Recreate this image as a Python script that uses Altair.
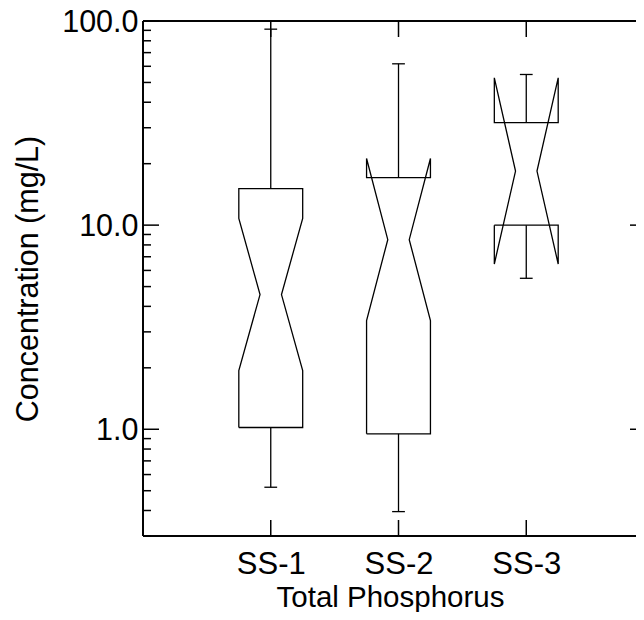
import json
import altair as alt
import pandas as pd

# ---- data ----
stations = ["SS-1", "SS-2", "SS-3"]
q1 = [1.02, 0.95, 10.0]
q3 = [15.1, 17.1, 31.8]
median = [4.57, 8.49, 18.4]
notch_lo = [1.94, 3.41, 6.45]
notch_hi = [10.8, 21.2, 52.7]
whisker_lo = [0.52, 0.395, 5.49]
whisker_hi = [91.2, 61.7, 54.7]

y_major = [1, 10, 100]
y_minor = [0.3, 0.4, 0.5, 0.6, 0.7, 0.8, 0.9,
           2, 3, 4, 5, 6, 7, 8, 9,
           20, 30, 40, 50, 60, 70, 80, 90]

# ---- style ----
W, H = 493, 515
X_MAX = 3.859          # visible part of the 0..4 category axis
BW, NW, CW = 0.25, 0.084, 0.05   # box / notch / cap half widths (x units)
FONT = "Liberation Sans"
LW = 1.3

# ---- build tables ----
poly_rows = []
rule_rows = []
for i, s in enumerate(stations):
    c = i + 1
    pts = [(c - BW, q1[i]), (c - BW, notch_lo[i]), (c - NW, median[i]),
           (c - BW, notch_hi[i]), (c - BW, q3[i]), (c + BW, q3[i]),
           (c + BW, notch_hi[i]), (c + NW, median[i]), (c + BW, notch_lo[i]),
           (c + BW, q1[i]), (c - BW, q1[i])]
    for k, (px, py) in enumerate(pts):
        poly_rows.append({"station": s, "o": k, "x": px, "y": py})
    rule_rows.append({"x": c, "x2": c, "y": q3[i], "y2": whisker_hi[i]})
    rule_rows.append({"x": c, "x2": c, "y": q1[i], "y2": whisker_lo[i]})
    rule_rows.append({"x": c - CW, "x2": c + CW, "y": whisker_hi[i], "y2": whisker_hi[i]})
    rule_rows.append({"x": c - CW, "x2": c + CW, "y": whisker_lo[i], "y2": whisker_lo[i]})

poly = pd.DataFrame(poly_rows)
rules = pd.DataFrame(rule_rows)
major = pd.DataFrame({"y": y_major})
minor = pd.DataFrame({"y": y_minor})
cats = pd.DataFrame({"x": list(range(1, len(stations) + 1))})

x_scale = alt.Scale(domain=[0, X_MAX], nice=False, zero=False)
y_scale = alt.Scale(type="log", domain=[0.3, 100], nice=False)

x_enc = alt.X("x:Q", scale=x_scale, axis=alt.Axis(
    values=[1, 2, 3], ticks=False, tickSize=0, domain=False, grid=False,
    labelExpr=json.dumps(stations) + "[datum.value - 1]",
    labelFont=FONT, labelFontSize=31, labelColor="black",
    labelBaseline="alphabetic", labelPadding=37,
    title="Total Phosphorus", titleFont=FONT, titleFontSize=29.5,
    titleFontWeight="normal", titleColor="black",
    titleBaseline="alphabetic", titleX=247, titleY=70))

y_enc = alt.Y("y:Q", scale=y_scale, axis=alt.Axis(
    values=y_major, ticks=False, tickSize=0, domain=False, grid=False,
    labelExpr="datum.value >= 100 ? '100.0' : datum.value >= 10 ? '10.0' : '1.0'",
    labelFont=FONT, labelFontSize=30.5, labelColor="black", labelPadding=5,
    labelBaseline="alphabetic", labelOffset=10,
    title="Concentration (mg/L)", titleFont=FONT, titleFontSize=30.5,
    titleFontWeight="normal", titleColor="black",
    titleBaseline="bottom", titleX=-100))

boxes = alt.Chart(poly).mark_line(color="black", strokeWidth=LW).encode(
    x=x_enc, y=y_enc, detail="station:N", order="o:Q")

whisk = alt.Chart(rules).mark_rule(color="black", strokeWidth=LW).encode(
    x=x_enc, x2="x2:Q", y=y_enc, y2="y2:Q")

def yticks(df, x0, x1):
    return alt.Chart(df).mark_rule(color="black", strokeWidth=1.5).encode(
        x=alt.value(x0), x2=alt.value(x1), y=y_enc)

def xticks(y0, y1):
    return alt.Chart(cats).mark_rule(color="black", strokeWidth=1.5).encode(
        x=x_enc, y=alt.value(y0), y2=alt.value(y1))

frame_left = alt.Chart(cats).mark_rule(color="black", strokeWidth=1.5).encode(
    x=alt.value(0), y=alt.value(0), y2=alt.value(H))
frame_top = alt.Chart(cats).mark_rule(color="black", strokeWidth=1.5).encode(
    x=alt.value(0), x2=alt.value(W), y=alt.value(0))
frame_bottom = alt.Chart(cats).mark_rule(color="black", strokeWidth=1.5).encode(
    x=alt.value(0), x2=alt.value(W), y=alt.value(H))

chart = alt.layer(
    boxes, whisk,
    yticks(major, 0, 16), yticks(minor, 0, 8),
    yticks(major, W - 6, W),
    xticks(0, 16), xticks(H - 16, H),
    frame_left, frame_top, frame_bottom,
).properties(
    width=W, height=H,
    autosize=alt.AutoSizeParams(type="none"),
    padding={"left": 135, "top": 13, "right": 0, "bottom": 76},
).configure_view(strokeWidth=0)

chart.save("out.html", embed_options={"renderer": "svg", "actions": False})
